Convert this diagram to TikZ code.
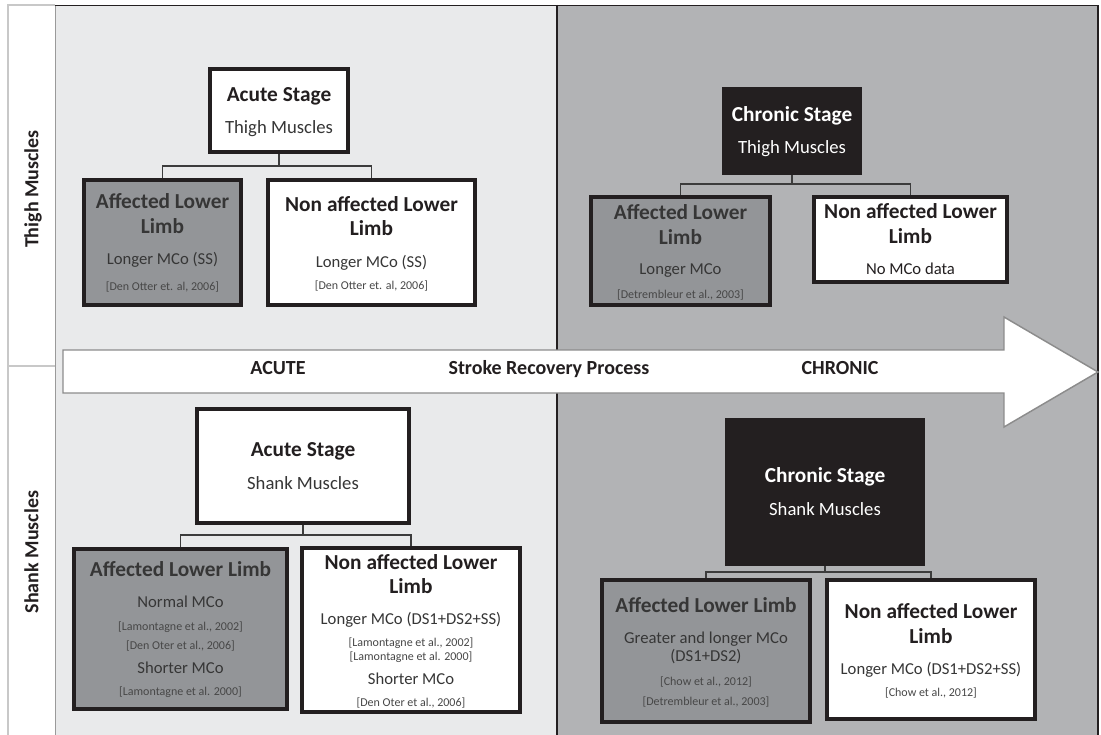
\documentclass[tikz,border=0pt]{standalone}
\usepackage{fontspec}
\setmainfont{Carlito}

\definecolor{acutebg}{HTML}{E9EAEB}
\definecolor{chronbg}{HTML}{B2B3B5}
\definecolor{affgray}{HTML}{939598}
\definecolor{boxline}{HTML}{231F20}
\definecolor{inkdark}{HTML}{231F20}
\definecolor{inkgray}{HTML}{363636}
\definecolor{citegray}{HTML}{474747}
\definecolor{linkgray}{HTML}{3C3C3C}
\definecolor{arrowline}{HTML}{8C8C8C}
\definecolor{edgegray}{HTML}{9A9A9A}
\definecolor{colline}{HTML}{C8C8C8}

\tikzset{
  stagebox/.style={draw=boxline, line width=3pt, fill=white, inner sep=0pt},
  affbox/.style={stagebox, fill=affgray},
  chronbox/.style={draw=boxline, fill=boxline, line width=0.75pt, inner sep=0pt},
  link/.style={draw=linkgray, line width=0.8pt},
  hd/.style={font=\fontsize{16}{19}\selectfont\bfseries, text=inkdark, inner sep=0pt, text height=10.3pt, text depth=0pt},
  sub/.style={font=\fontsize{14}{17}\selectfont, text=inkgray, inner sep=0pt, text height=9pt, text depth=0pt},
  res/.style={font=\fontsize{12.5}{15}\selectfont, text=inkgray, inner sep=0pt, text height=8pt, text depth=0pt},
  cite/.style={font=\fontsize{9}{11}\selectfont, text=citegray, inner sep=0pt, text height=5.8pt, text depth=0pt},
  phase/.style={font=\fontsize{15}{18}\selectfont\bfseries, text=inkdark, inner sep=0pt, text height=9.7pt, text depth=0pt},
  side/.style={phase, rotate=90}
}

\begin{document}
\begin{tikzpicture}[x=0.75pt,y=0.75pt,yscale=-1,xscale=1]
\useasboundingbox (0,0) rectangle (1101,735);

%Shape: Rectangle [acute panel]
\fill [acutebg] (55,5) rectangle (557,735);
%Shape: Rectangle [chronic panel]
\fill [chronbg] (557,5) rectangle (1098,735);
%Straight Lines [side column]
\draw [colline, line width=1pt] (8,735) -- (8,5) -- (55,5);
\draw [colline, line width=1pt] (8,366) -- (55,366);
%Straight Lines [frame]
\draw [edgegray, line width=1.2pt] (55.5,5) -- (55.5,735);
\draw [boxline, line width=1.2pt] (55,5.5) -- (1098,5.5) -- (1098,735);
\draw [boxline, line width=1.2pt] (557,5) -- (557,735);

%Shape: Right Arrow [recovery]
\draw [arrowline, fill=white, line width=1.1pt] (63,350) -- (1004,350) -- (1004,317) -- (1098,372) -- (1004,427) -- (1004,393) -- (63,393) -- cycle;

% Text Node
\draw (278,368) node (acuteLbl) [phase] {ACUTE};
% Text Node
\draw (549,368) node (processLbl) [phase] {Stroke Recovery Process};
% Text Node
\draw (840,368) node (chronicLbl) [phase] {CHRONIC};
% Text Node
\draw (32,189) node (thighLbl) [side] {Thigh Muscles};
% Text Node
\draw (32,552) node (shankLbl) [side] {Shank Muscles};

%Shape: Rectangle [thigh, acute]
\draw (279,110.5) node (ta) [stagebox, minimum width=103.5pt, minimum height=62.25pt] {};
\draw (162.5,242.5) node (taa) [affbox, minimum width=117.75pt, minimum height=93.75pt] {};
\draw (371.5,242.5) node (tan) [stagebox, minimum width=155.25pt, minimum height=93.75pt] {};
%Straight Lines
\draw [link] (ta.south) -- ++(0,12) -| (taa.north);
\draw [link] (ta.south) ++(0,12) -| (tan.north);

% Text Node
\draw (279,95) node (taHd) [hd] {Acute Stage};
\draw (279,127) node (taSub) [sub] {Thigh Muscles};
\draw (162.5,202) node (taaHd) [hd, text=inkgray] {Affected Lower};
\draw (162.5,227) node (taaHdb) [hd, text=inkgray] {Limb};
\draw (162.5,259) node (taaRes) [res] {Longer MCo (SS)};
\draw (162.5,287) node (taaRef) [cite] {[Den Otter et. al, 2006]};
\draw (371.5,205) node (tanHd) [hd] {Non affected Lower};
\draw (371.5,229) node (tanHdb) [hd] {Limb};
\draw (371.5,262) node (tanRes) [res] {Longer MCo (SS)};
\draw (371.5,286) node (tanRef) [cite] {[Den Otter et. al, 2006]};

%Shape: Rectangle [thigh, chronic]
\draw (792,131) node (tc) [chronbox, minimum width=104.25pt, minimum height=65.25pt] {};
\draw (680.5,251) node (tca) [affbox, minimum width=134.25pt, minimum height=81pt] {};
\draw (910.5,239.5) node (tcn) [stagebox, minimum width=144.75pt, minimum height=63.75pt] {};
%Straight Lines
\draw [link] (tc.south) -- ++(0,9) -| (tca.north);
\draw [link] (tc.south) ++(0,9) -| (tcn.north);

% Text Node
\draw (792,115) node (tcHd) [hd, text=white] {Chronic Stage};
\draw (792,148) node (tcSub) [sub, text=white] {Thigh Muscles};
\draw (680.5,213) node (tcaHd) [hd, text=inkgray] {Affected Lower};
\draw (680.5,238) node (tcaHdb) [hd, text=inkgray] {Limb};
\draw (680.5,269) node (tcaRes) [res] {Longer MCo};
\draw (680.5,295) node (tcaRef) [cite] {[Detrembleur et al., 2003]};
\draw (910.5,212) node (tcnHd) [hd] {Non affected Lower};
\draw (910.5,237) node (tcnHdb) [hd] {Limb};
\draw (910.5,269) node (tcnRes) [res, text=inkdark] {No MCo data};

%Shape: Rectangle [shank, acute]
\draw (303,466) node (sa) [stagebox, minimum width=159pt, minimum height=85.5pt] {};
\draw (180.5,629) node (saa) [affbox, minimum width=159.75pt, minimum height=120pt] {};
\draw (411,630) node (san) [stagebox, minimum width=163.5pt, minimum height=123pt] {};
%Straight Lines
\draw [link] (sa.south) -- ++(0,10) -| (saa.north);
\draw [link] (sa.south) ++(0,10) -| (san.north);

% Text Node
\draw (303,450) node (saHd) [hd] {Acute Stage};
\draw (303,483) node (saSub) [sub] {Shank Muscles};
\draw (180.5,570) node (saaHd) [hd, text=inkgray] {Affected Lower Limb};
\draw (180.5,602) node (saaRes) [res] {Normal MCo};
\draw (180.5,627) node (saaRef) [cite] {[Lamontagne et al., 2002]};
\draw (180.5,646) node (saaRefb) [cite] {[Den Oter et al., 2006]};
\draw (180.5,668) node (saaResb) [res] {Shorter MCo};
\draw (180.5,692) node (saaRefc) [cite] {[Lamontagne et al. 2000]};
\draw (411,563) node (sanHd) [hd] {Non affected Lower};
\draw (411,587) node (sanHdb) [hd] {Limb};
\draw (411,619) node (sanRes) [res] {Longer MCo (DS1+DS2+SS)};
\draw (411,643) node (sanRef) [cite] {[Lamontagne et al., 2002]};
\draw (411,657) node (sanRefb) [cite] {[Lamontagne et al. 2000]};
\draw (411,679) node (sanResb) [res] {Shorter MCo};
\draw (411,703) node (sanRefc) [cite] {[Den Oter et al., 2006]};

%Shape: Rectangle [shank, chronic]
\draw (825,492) node (sc) [chronbox, minimum width=149.25pt, minimum height=110.25pt] {};
\draw (706,651) node (sca) [affbox, minimum width=156pt, minimum height=106.5pt] {};
\draw (931,649.5) node (scn) [stagebox, minimum width=156pt, minimum height=104.25pt] {};
%Straight Lines
\draw [link] (sc.south) -- ++(0,6) -| (sca.north);
\draw [link] (sc.south) ++(0,6) -| (scn.north);

% Text Node
\draw (825,476) node (scHd) [hd, text=white] {Chronic Stage};
\draw (825,509) node (scSub) [sub, text=white] {Shank Muscles};
\draw (706,606) node (scaHd) [hd, text=inkgray] {Affected Lower Limb};
\draw (706,638) node (scaRes) [res] {Greater and longer MCo};
\draw (706,656) node (scaResb) [res] {(DS1+DS2)};
\draw (706,682) node (scaRef) [cite] {[Chow et al., 2012]};
\draw (706,702) node (scaRefb) [cite] {[Detrembleur et al., 2003]};
\draw (931,612) node (scnHd) [hd] {Non affected Lower};
\draw (931,637) node (scnHdb) [hd] {Limb};
\draw (931,669) node (scnRes) [res] {Longer MCo (DS1+DS2+SS)};
\draw (931,693) node (scnRef) [cite] {[Chow et al., 2012]};

\end{tikzpicture}
\end{document}
